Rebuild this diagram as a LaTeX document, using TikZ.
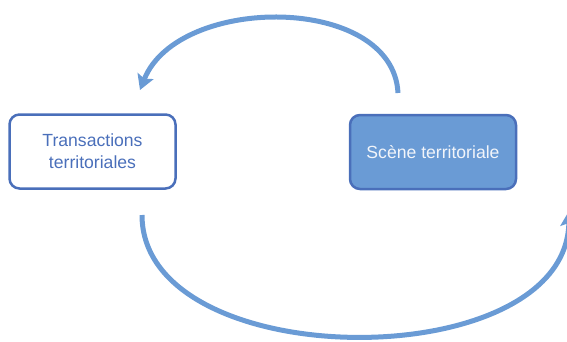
\documentclass[tikz,border=0pt]{standalone}
\usepackage{fontspec}
\setmainfont{Liberation Sans}
\usetikzlibrary{arrows.meta}
\definecolor{boxline}{HTML}{4A6FBA}
\definecolor{boxfill}{HTML}{6A9BD5}
\definecolor{arrowc}{HTML}{6A9BD5}
\definecolor{lighttext}{HTML}{F2F5FA}
\tikzset{
  box/.style={draw=boxline, line width=2.5pt, rounded corners=10pt, minimum width=166pt, minimum height=74pt, align=center, font=\fontsize{17.6}{22}\selectfont, inner sep=0pt},
  cyc/.style={draw=arrowc, line width=5pt, -{Stealth[width=17pt,length=15pt,inset=3pt]}}
}
\begin{document}
\begin{tikzpicture}[x=1pt,y=-1pt]
\useasboundingbox (0,0) rectangle (567,341);
\clip (0,0) rectangle (567,341);
\node[box, text=boxline] (trans) at (92.5,151.5) {Transactions\\territoriales};
\node[box, fill=boxfill, text=lighttext] (scene) at (433,152) {Scène territoriale};
\coordinate (a1) at (398,93);
\coordinate (a2) at (140,90);
\coordinate (b1) at (142,215);
\coordinate (b2) at (569,211);
\draw[cyc] (a1) .. controls (393,-6) and (178,-6) .. (a2);
\draw[cyc] (b1) .. controls (142,376) and (567,378) .. (b2);
\end{tikzpicture}
\end{document}
